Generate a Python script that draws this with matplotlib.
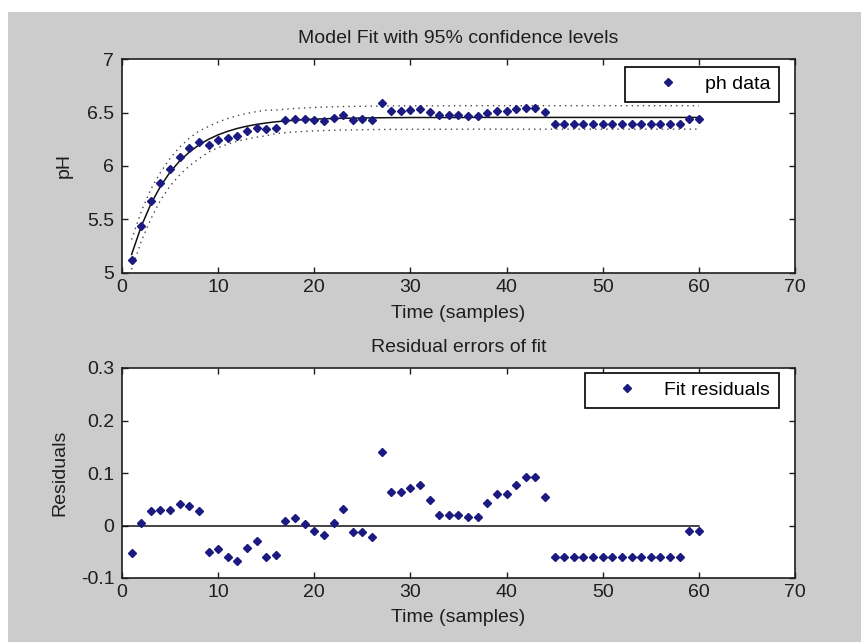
import matplotlib
matplotlib.use("Agg")
import matplotlib.pyplot as plt
from matplotlib.patches import Rectangle
from matplotlib.ticker import FormatStrFormatter

# samples 1..60
t = list(range(1, 61))

# fitted model values
fit = [5.170, 5.433, 5.643, 5.809, 5.942, 6.047, 6.130, 6.197, 6.250, 6.292,
       6.325, 6.352, 6.373, 6.390, 6.403, 6.414, 6.422, 6.429, 6.434, 6.439,
       6.442, 6.445, 6.447, 6.448, 6.450, 6.451, 6.452, 6.453, 6.453, 6.454,
       6.454, 6.454, 6.454, 6.454, 6.454, 6.455, 6.455, 6.455, 6.455, 6.455,
       6.455, 6.455, 6.455, 6.455, 6.455, 6.455, 6.455, 6.455, 6.455, 6.455,
       6.455, 6.455, 6.455, 6.455, 6.455, 6.455, 6.455, 6.455, 6.455, 6.455]

# fit residuals (bottom panel)
resid = [-0.053, 0.004, 0.027, 0.030, 0.030, 0.041, 0.037, 0.027, -0.051, -0.045,
         -0.060, -0.068, -0.043, -0.030, -0.060, -0.057, 0.008, 0.014, 0.002, -0.011,
         -0.018, 0.004, 0.032, -0.013, -0.013, -0.021, 0.140, 0.063, 0.063, 0.072,
         0.077, 0.048, 0.020, 0.020, 0.020, 0.017, 0.017, 0.043, 0.060, 0.060,
         0.078, 0.093, 0.093, 0.055, -0.060, -0.060, -0.060, -0.060, -0.060, -0.060,
         -0.060, -0.060, -0.060, -0.060, -0.060, -0.060, -0.060, -0.060, -0.011, -0.011]

# half width of the 95% band
ci_half = [0.14, 0.14, 0.14, 0.13, 0.13, 0.13, 0.13, 0.13, 0.12, 0.12,
           0.12, 0.12, 0.12, 0.12, 0.12] + [0.11] * 45

# measured pH = fit + residual
ph = [f + r for f, r in zip(fit, resid)]
upper = [f + h for f, h in zip(fit, ci_half)]
lower = [f - h for f, h in zip(fit, ci_half)]

x_ticks = [0, 10, 20, 30, 40, 50, 60, 70]
ph_ticks = [5, 5.5, 6, 6.5, 7]
res_ticks = [-0.1, 0, 0.1, 0.2, 0.3]

FS = 14
plt.rcParams["font.family"] = ["Liberation Sans", "DejaVu Sans"]
plt.rcParams["font.size"] = FS

W, H = 862, 642
fig = plt.figure(figsize=(W / 100, H / 100), dpi=100, facecolor="white")
fig.patches.append(Rectangle((8 / W, 0), 1, 1 - 12 / H, transform=fig.transFigure,
                             facecolor="#cccccc", edgecolor="none", zorder=-10))

mk = dict(marker="D", linestyle="none", markersize=4.5, color="#1a1a80")
txt = "#1e1e1e"


def style(ax, yticks):
    ax.set_xlim(0, 70)
    ax.set_xticks(x_ticks)
    ax.set_yticks(yticks)
    ax.set_ylim(yticks[0], yticks[-1])
    ax.yaxis.set_major_formatter(FormatStrFormatter("%g"))
    ax.tick_params(direction="in", top=True, right=True, length=4, width=1,
                   colors=txt, labelsize=FS)
    ax.tick_params(axis="x", pad=4.5)
    ax.tick_params(axis="y", pad=5.5)
    for s in ax.spines.values():
        s.set_linewidth(1.2)
        s.set_color(txt)


def add_legend(ax, top):
    leg = ax.legend(loc="upper right", bbox_to_anchor=(0.976, top), fancybox=False,
                    edgecolor="black", framealpha=1, fontsize=FS, borderpad=0.45,
                    handlelength=3.5, handletextpad=0.15, borderaxespad=0)
    leg.get_frame().set_linewidth(1.2)


# top: fit with confidence band
ax1 = fig.add_axes([122 / W, 1 - 272.6 / H, 673 / W, 213.3 / H])
ax1.plot(t, upper, color="#444444", lw=1.0, linestyle=(0, (1, 3)))
ax1.plot(t, lower, color="#444444", lw=1.0, linestyle=(0, (1, 3)))
ax1.plot(t, fit, "-", color="#111111", lw=1.1)
ax1.plot(t, ph, label="ph data", **mk)
style(ax1, ph_ticks)
ax1.set_title("Model Fit with 95% confidence levels", pad=11.5, color=txt, fontsize=FS)
ax1.set_xlabel("Time (samples)", color=txt, fontsize=FS)
ax1.set_ylabel("pH", color=txt, fontsize=FS)
ax1.xaxis.set_label_coords(0.5, -0.150)
ax1.yaxis.set_label_coords(-0.074, 0.5)
add_legend(ax1, 0.965)

# bottom: residuals
ax2 = fig.add_axes([122 / W, 1 - 578 / H, 673 / W, 210 / H])
ax2.plot([0, 60], [0, 0], "-", color="#111111", lw=1.1)
ax2.plot(t, resid, label="Fit residuals", **mk)
style(ax2, res_ticks)
ax2.set_title("Residual errors of fit", pad=11.3, color=txt, fontsize=FS)
ax2.set_xlabel("Time (samples)", color=txt, fontsize=FS)
ax2.set_ylabel("Residuals", color=txt, fontsize=FS)
ax2.xaxis.set_label_coords(0.5, -0.149)
ax2.yaxis.set_label_coords(-0.079, 0.5)
add_legend(ax2, 0.978)

fig.savefig("out.png", dpi=100, facecolor=fig.get_facecolor())
